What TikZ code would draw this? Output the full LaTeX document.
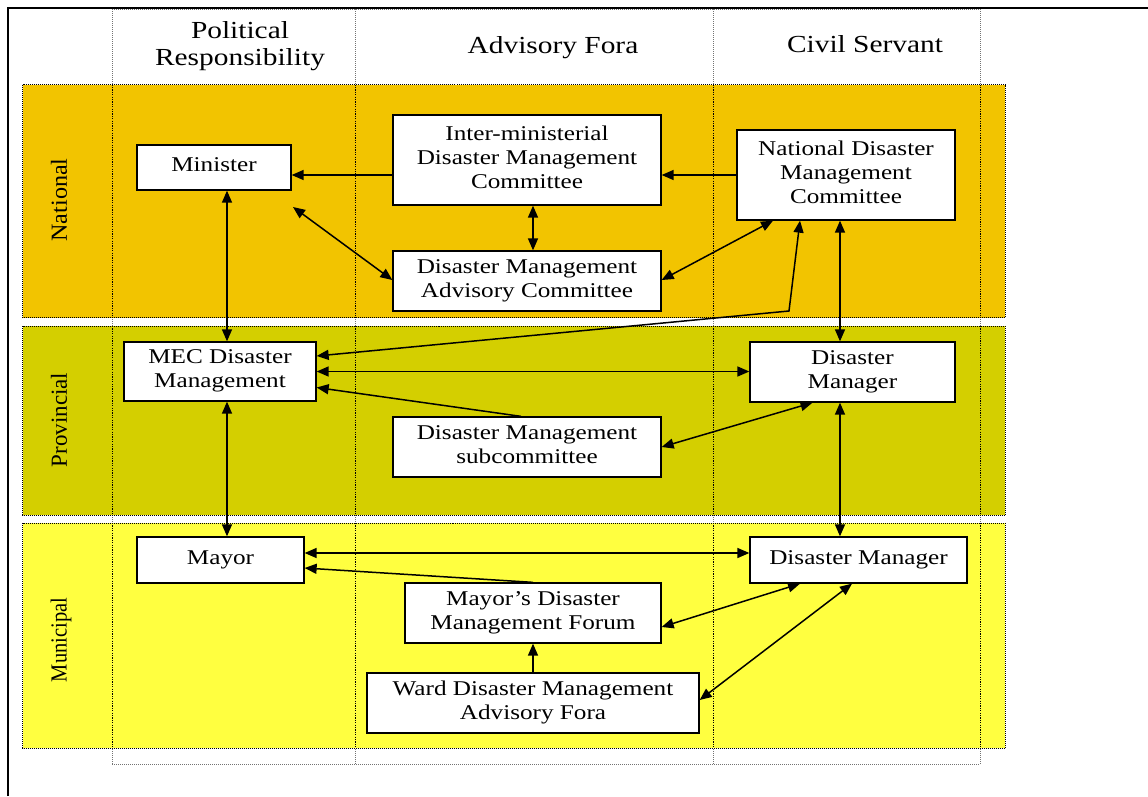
\documentclass[tikz,border=0pt]{standalone}
\usepackage{fontspec}
\usepackage{graphicx}
\setmainfont{Liberation Serif}[FakeStretch=1.2]
\newfontfamily\bandfont{Liberation Serif}
\usetikzlibrary{arrows.meta}
\definecolor{natc}{RGB}{242,196,0}
\definecolor{provc}{RGB}{212,207,0}
\definecolor{munc}{RGB}{255,255,64}
\tikzset{
  box/.style={draw=black, line width=1.3pt, fill=white, inner sep=0pt, align=center,
    text depth=5pt, font=\fontsize{21}{24}\selectfont},
  hdr/.style={align=center, font=\fontsize{24.5}{27}\selectfont, inner sep=0pt},
  bandlbl/.style={rotate=90, inner sep=0pt, font=\bandfont\fontsize{23}{23}\selectfont},
  band/.style={draw=black, line width=0.7pt, dash pattern=on 1pt off 1pt},
  gridline/.style={draw=black!55, line width=0.8pt, dash pattern=on 1pt off 1pt},
  colline/.style={draw=black, line width=0.6pt, dash pattern=on 1.2pt off 1.2pt},
  conn/.style={line width=1.5pt, draw=black},
  dbl/.style={conn, {Triangle[length=12pt,width=10pt]}-{Triangle[length=12pt,width=10pt]}},
  sgl/.style={conn, -{Triangle[length=12pt,width=10pt]}},
  frame/.style={line width=2pt, draw=black}
}
\begin{document}
\begin{tikzpicture}[x=1pt,y=-1pt]
\useasboundingbox (0,0) rectangle (1148,796);
% grey dotted grid
\foreach \cx in {112,355,713,980} {\draw[gridline] (\cx,9) -- (\cx,764);}
\draw[gridline] (112,9) -- (980,9);
\draw[gridline] (112,764) -- (980,764);
% bands
\fill[natc] (22.5,84.5) rectangle (1005,317.5);
\fill[provc] (22.5,326) rectangle (1005,515);
\fill[munc] (22.5,523) rectangle (1005,748);
\draw[band] (22.5,84.5) rectangle (1005,317.5);
\draw[band] (22.5,326) rectangle (1005,515);
\draw[band] (22.5,523) rectangle (1005,748);
\foreach \cx in {112,355,713,980} {
  \draw[colline] (\cx,84.5) -- (\cx,317.5);
  \draw[colline] (\cx,326) -- (\cx,515);
  \draw[colline] (\cx,523) -- (\cx,748);
}
% frame
\draw[frame] (7.5,796) -- (7.5,7.5) -- (1148,7.5);
% headers
\node[hdr] (hpol) at (240,46) {Political\\Responsibility};
\node[hdr] (hadv) at (553,47.5) {Advisory Fora};
\node[hdr] (hciv) at (865,44.5) {Civil Servant};
% band labels
\node[bandlbl] (lnat) at (59,200) {\scalebox{1.05}[1]{National}};
\node[bandlbl] (lprov) at (59,420) {\scalebox{1.0}[1]{Provincial}};
\node[bandlbl] (lmun) at (61,640) {\scalebox{0.89}[1]{Municipal}};
% boxes
\node[box, minimum width=154pt, minimum height=45pt] (minister) at (214,167.5) {Minister};
\node[box, minimum width=268pt, minimum height=90pt] (imdmc) at (527,160) {Inter-ministerial\\Disaster Management\\Committee};
\node[box, minimum width=218pt, minimum height=90pt] (ndmc) at (846,175) {National Disaster\\Management\\Committee};
\node[box, minimum width=268pt, minimum height=60pt] (dmac) at (527,281) {Disaster Management\\Advisory Committee};
\node[box, minimum width=192pt, minimum height=59pt] (mec) at (220,371.5) {MEC Disaster\\Management};
\node[box, minimum width=205pt, minimum height=60pt] (dmprov) at (852.5,372) {Disaster\\Manager};
\node[box, minimum width=268pt, minimum height=60pt] (dmsub) at (527,447) {Disaster Management\\subcommittee};
\node[box, minimum width=167pt, minimum height=46pt] (mayor) at (220.5,560) {Mayor};
\node[box, minimum width=217pt, minimum height=46pt] (dmmuni) at (858.5,560) {Disaster Manager};
\node[box, minimum width=256pt, minimum height=60pt] (forum) at (533,613) {Mayor’s Disaster\\Management Forum};
\node[box, minimum width=332pt, minimum height=60pt] (ward) at (533,703) {Ward Disaster Management\\Advisory Fora};
% helper coordinates
\coordinate (colL) at (227,0);
\coordinate (colR) at (840,0);
\coordinate (mfree) at (293,207);
\coordinate (bend) at (789,311);
% connectors
\draw[sgl] ([yshift=-15pt]imdmc.west) -- ([yshift=-7.5pt]minister.east);
\draw[sgl] (ndmc.west) -- ([yshift=-15pt]imdmc.east);
\draw[dbl] ([xshift=6pt]imdmc.south) -- ([xshift=6pt]dmac.north);
\draw[dbl] (mfree) -- ([yshift=1pt]dmac.west);
\draw[dbl] ([yshift=1pt]dmac.east) -- ([xshift=-73pt]ndmc.south);
\draw[dbl] ([xshift=-46pt]ndmc.south) -- (bend) -- ([yshift=15.5pt]mec.east);
\draw[dbl] (mec.east) -- (mec.east -| dmprov.west);
\draw[sgl] ([xshift=-6pt]dmsub.north) -- ([yshift=-16pt]mec.east);
\draw[dbl] (dmsub.east) -- ([xshift=-40pt]dmprov.south);
\draw[dbl] (minister.south -| colL) -- (mec.north -| colL);
\draw[dbl] (ndmc.south -| colR) -- (dmprov.north -| colR);
\draw[dbl] (mec.south -| colL) -- (mayor.north -| colL);
\draw[dbl] (dmprov.south -| colR) -- (dmmuni.north -| colR);
\draw[dbl] ([yshift=7pt]mayor.east) -- ([yshift=7pt]dmmuni.west);
\draw[sgl] (forum.north) -- ([yshift=-8pt]mayor.east);
\draw[dbl] ([yshift=-14pt]forum.east) -- ([xshift=-58.5pt]dmmuni.south);
\draw[sgl] (ward.north) -- (forum.south);
\draw[dbl] ([yshift=3pt]ward.east) -- ([xshift=-6.5pt]dmmuni.south);
\end{tikzpicture}
\end{document}
